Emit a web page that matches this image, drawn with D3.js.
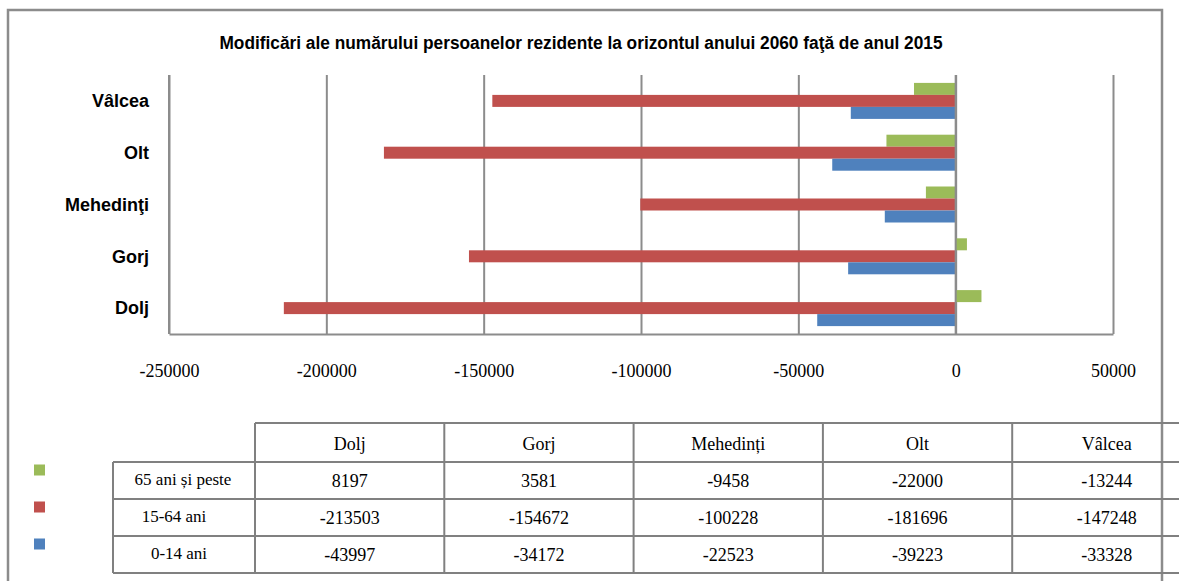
<!DOCTYPE html>
<html>
<head>
<meta charset="utf-8">
<script src="https://cdn.jsdelivr.net/npm/d3@7"></script>
<style>
  body { margin: 0; background: #fff; }
  .axis text { font-family: 'Liberation Serif', 'Times New Roman', serif; font-size: 18px; fill: #000; }
  .axis line, .axis path { stroke: #8c8c8c; stroke-width: 2; }
</style>
</head>
<body>
<div id="chart"></div>
<script>
'use strict'

// regions as they appear in the table (left to right); chart shows them bottom to top
var regions = ['Dolj', 'Gorj', 'Mehedinţi', 'Olt', 'Vâlcea'];
var tableHeaders = ['Dolj', 'Gorj', 'Mehedinți', 'Olt', 'Vâlcea'];
var ageGroups = ['65 ani și peste', '15-64 ani', '0-14 ani'];
var over65 = [8197, 3581, -9458, -22000, -13244];
var age15to64 = [-213503, -154672, -100228, -181696, -147248];
var age0to14 = [-43997, -34172, -22523, -39223, -33328];
var xTicks = [-250000, -200000, -150000, -100000, -50000, 0, 50000];
var colors = ['#9bbb59', '#c0504d', '#4f81bd'];

var title = 'Modificări ale numărului persoanelor rezidente la orizontul anului 2060 faţă de anul 2015';

(function() {
  var width = 1179, height = 581;
  var plot = { left: 169, right: 1113, top: 75, bottom: 334 };
  var series = [over65, age15to64, age0to14];

  var svg = d3.select('#chart').append('svg')
    .attr('width', width)
    .attr('height', height);

  // outer frame (runs past the bottom of the picture)
  svg.append('rect')
    .attr('x', 8).attr('y', 10)
    .attr('width', 1154).attr('height', 620)
    .attr('fill', 'none')
    .attr('stroke', '#8c8c8c')
    .attr('stroke-width', 2.5);

  svg.append('text')
    .attr('transform', 'translate(581,49) scale(0.91,1)')
    .attr('text-anchor', 'middle')
    .style('font-family', "'Liberation Sans', Arial, sans-serif")
    .style('font-weight', 'bold')
    .style('font-size', '19px')
    .text(title);

  var x = d3.scaleLinear()
    .domain([xTicks[0], xTicks[xTicks.length - 1]])
    .range([plot.left, plot.right]);

  var y = d3.scaleBand()
    .domain(regions.slice().reverse())
    .range([plot.top, plot.bottom])
    .paddingInner(0.305)
    .paddingOuter(0.1525);

  var ySub = d3.scaleBand()
    .domain(d3.range(series.length))
    .range([0, y.bandwidth()]);

  var xAxis = d3.axisBottom(x)
    .tickValues(xTicks)
    .tickFormat(function(d) { return String(d); })
    .tickSizeInner(-(plot.bottom - plot.top))
    .tickSizeOuter(0)
    .tickPadding(30);

  svg.append('g')
    .attr('class', 'axis')
    .attr('transform', 'translate(0,' + plot.bottom + ')')
    .call(xAxis);

  svg.append('line')
    .attr('x1', plot.left).attr('x2', plot.left)
    .attr('y1', plot.top).attr('y2', plot.bottom)
    .attr('stroke', '#8c8c8c').attr('stroke-width', 2);

  var groups = svg.append('g').selectAll('g')
    .data(regions)
    .enter().append('g')
    .attr('transform', function(d) { return 'translate(0,' + y(d) + ')'; });

  groups.selectAll('rect')
    .data(function(d, i) { return series.map(function(s, k) { return { k: k, v: s[i] }; }); })
    .enter().append('rect')
    .attr('x', function(d) { return x(Math.min(0, d.v)); })
    .attr('y', function(d) { return ySub(d.k); })
    .attr('width', function(d) { return Math.abs(x(d.v) - x(0)); })
    .attr('height', ySub.bandwidth())
    .attr('fill', function(d) { return colors[d.k]; });

  // redraw zero line over the bars
  svg.append('line')
    .attr('x1', x(0)).attr('x2', x(0))
    .attr('y1', plot.top).attr('y2', plot.bottom)
    .attr('stroke', '#8c8c8c').attr('stroke-width', 2);

  svg.append('g').selectAll('text')
    .data(regions)
    .enter().append('text')
    .attr('x', 149)
    .attr('y', function(d) { return y(d) + y.bandwidth() / 2; })
    .attr('dy', '0.35em')
    .attr('text-anchor', 'end')
    .style('font-family', "'Liberation Sans', Arial, sans-serif")
    .style('font-weight', 'bold')
    .style('font-size', '18px')
    .text(function(d) { return d; });

  // data table
  var tx = d3.scaleBand().domain(tableHeaders).range([255, 1201.5]);
  var ty = d3.scaleBand().domain(ageGroups).range([462, 573]);
  var headTop = 423, labelLeft = 113;
  var lineStyle = { stroke: '#808080', 'stroke-width': 2 };
  var table = svg.append('g');

  function hline(x1, x2, yy) {
    table.append('line').attr('x1', x1).attr('x2', x2).attr('y1', yy).attr('y2', yy)
      .attr('stroke', lineStyle.stroke).attr('stroke-width', lineStyle['stroke-width']);
  }
  function vline(xx, y1, y2) {
    table.append('line').attr('x1', xx).attr('x2', xx).attr('y1', y1).attr('y2', y2)
      .attr('stroke', lineStyle.stroke).attr('stroke-width', lineStyle['stroke-width']);
  }

  hline(tx.range()[0], tx.range()[1], headTop);
  hline(labelLeft, tx.range()[1], ty.range()[0]);
  ageGroups.forEach(function(g) { hline(labelLeft, tx.range()[1], ty(g) + ty.bandwidth()); });
  vline(labelLeft, ty.range()[0], ty.range()[1]);
  tableHeaders.forEach(function(h) { vline(tx(h), headTop, ty.range()[1]); });

  var cellFont = "'Liberation Serif', 'Times New Roman', serif";

  table.selectAll('text.head')
    .data(tableHeaders)
    .enter().append('text')
    .attr('class', 'head')
    .attr('x', function(d) { return tx(d) + tx.bandwidth() / 2; })
    .attr('y', (headTop + ty.range()[0]) / 2 + 1)
    .attr('dy', '0.35em')
    .attr('text-anchor', 'middle')
    .style('font-family', cellFont).style('font-size', '18px')
    .text(function(d) { return d; });

  table.selectAll('text.rowlabel')
    .data(ageGroups)
    .enter().append('text')
    .attr('class', 'rowlabel')
    .attr('x', function(d, i) { return [183, 174, 179][i]; })
    .attr('y', function(d) { return ty(d) + ty.bandwidth() / 2 - 1; })
    .attr('dy', '0.35em')
    .attr('text-anchor', 'middle')
    .style('font-family', cellFont).style('font-size', '17px')
    .text(function(d) { return d; });

  series.forEach(function(s, k) {
    table.selectAll('text.v' + k)
      .data(s)
      .enter().append('text')
      .attr('class', 'v' + k)
      .attr('x', function(d, i) { return tx(tableHeaders[i]) + tx.bandwidth() / 2; })
      .attr('y', ty(ageGroups[k]) + ty.bandwidth() / 2)
      .attr('dy', '0.35em')
      .attr('text-anchor', 'middle')
      .style('font-family', cellFont).style('font-size', '18px')
      .text(function(d) { return d; });
  });

  // legend keys
  svg.append('g').selectAll('rect')
    .data(ageGroups)
    .enter().append('rect')
    .attr('x', 34)
    .attr('y', function(d) { return ty(d) + ty.bandwidth() / 2 - 16; })
    .attr('width', 11).attr('height', 11)
    .attr('fill', function(d, i) { return colors[i]; });
})();
</script>
</body>
</html>
